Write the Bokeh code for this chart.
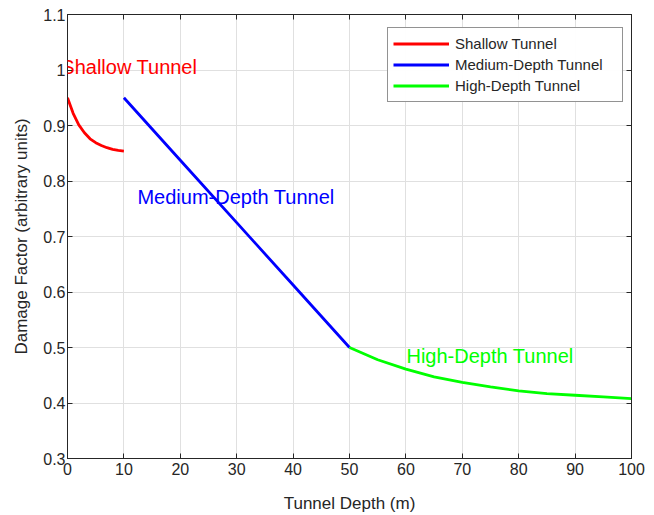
from bokeh.plotting import figure
from bokeh.models import (FixedTicker, CustomJSTickFormatter, LinearAxis, Legend,
                          LegendItem, Range1d, Label)
from bokeh.embed import file_html
from bokeh.resources import INLINE

# ---- data ----
shallow_x = [0, 1, 2, 3, 4, 5, 6, 7, 8, 9, 10]
shallow_y = [0.950, 0.922, 0.901, 0.887, 0.876, 0.869, 0.864, 0.860, 0.857, 0.855, 0.854]

medium_x = [10, 20, 30, 40, 50]
medium_y = [0.950, 0.8375, 0.725, 0.6125, 0.500]

high_x = [50, 55, 60, 65, 70, 75, 80, 85, 90, 95, 100]
high_y = [0.500, 0.478, 0.461, 0.447, 0.437, 0.429, 0.422, 0.417, 0.414, 0.411, 0.408]

series_names = ["Shallow Tunnel", "Medium-Depth Tunnel", "High-Depth Tunnel"]
series_colors = ["#ff0000", "#0000ff", "#00ff00"]

annot_x = [-1.1, 12.4, 60.1]
annot_y = [1.005, 0.772, 0.484]

x_ticks = [0, 10, 20, 30, 40, 50, 60, 70, 80, 90, 100]
y_ticks = [0.3, 0.4, 0.5, 0.6, 0.7, 0.8, 0.9, 1.0, 1.1]

FONT = "Liberation Sans"
AX = "#262626"

p = figure(width=654, height=515, output_backend="svg", toolbar_location=None,
           x_range=Range1d(0, 100), y_range=Range1d(0.3, 1.1),
           min_border_left=67, min_border_right=23, min_border_top=14,
           min_border_bottom=57)
p.outline_line_color = AX
p.outline_line_width = 1
p.background_fill_color = "white"
p.border_fill_color = "white"

lines = []
for xs, ys, c in zip([shallow_x, medium_x, high_x], [shallow_y, medium_y, high_y], series_colors):
    lines.append(p.line(xs, ys, line_color=c, line_width=2.8))

for nm, c, tx, ty in zip(series_names, series_colors, annot_x, annot_y):
    p.add_layout(Label(x=tx, y=ty, text=nm, text_color=c, text_font=FONT,
                       text_font_size="20px", text_align="left", text_baseline="middle"))

fmt = CustomJSTickFormatter(code="return tick.toString();")
blank = CustomJSTickFormatter(code="return '';")

p.xaxis.ticker = FixedTicker(ticks=x_ticks)
p.yaxis.ticker = FixedTicker(ticks=y_ticks)
for ax in [p.xaxis[0], p.yaxis[0]]:
    ax.axis_line_color = AX
    ax.major_tick_line_color = AX
    ax.major_tick_in = 5
    ax.major_tick_out = 0
    ax.minor_tick_line_color = None
    ax.major_label_text_color = AX
    ax.major_label_text_font = FONT
    ax.major_label_text_font_size = "16px"
    ax.axis_label_text_font = FONT
    ax.axis_label_text_font_size = "17px"
    ax.axis_label_text_font_style = "normal"
    ax.axis_label_text_color = AX
    ax.formatter = fmt
p.xaxis.axis_label = "Tunnel Depth (m)"
p.yaxis.axis_label = "Damage Factor (arbitrary units)"
p.xaxis.major_label_standoff = 4
p.yaxis.major_label_standoff = 2
p.xaxis.axis_label_standoff = 16
p.yaxis.axis_label_standoff = 9

top = LinearAxis(ticker=FixedTicker(ticks=x_ticks), formatter=blank,
                 major_label_text_font_size="8px",
                 major_tick_in=5, major_tick_out=0, minor_tick_line_color=None,
                 axis_line_color=AX, major_tick_line_color=AX, major_label_standoff=0)
right = LinearAxis(ticker=FixedTicker(ticks=y_ticks), formatter=blank,
                   major_label_text_font_size="8px",
                   major_tick_in=5, major_tick_out=0, minor_tick_line_color=None,
                   axis_line_color=AX, major_tick_line_color=AX, major_label_standoff=0)
p.add_layout(top, "above")
p.add_layout(right, "right")

p.xgrid.ticker = FixedTicker(ticks=x_ticks)
p.ygrid.ticker = FixedTicker(ticks=y_ticks)
p.grid.grid_line_color = "#e0e0e0"
p.grid.grid_line_width = 1

legend = Legend(items=[LegendItem(label=n, renderers=[r]) for n, r in zip(series_names, lines)],
                location=(320, 356), margin=0, padding=5, spacing=0,
                glyph_width=56, glyph_height=21, label_height=21, label_standoff=6,
                label_width=162,
                label_text_font=FONT, label_text_font_size="15px", label_text_color=AX,
                border_line_color=AX, border_line_width=1, background_fill_color="white")
p.add_layout(legend)

open("out.html", "w").write(file_html(p, INLINE))
